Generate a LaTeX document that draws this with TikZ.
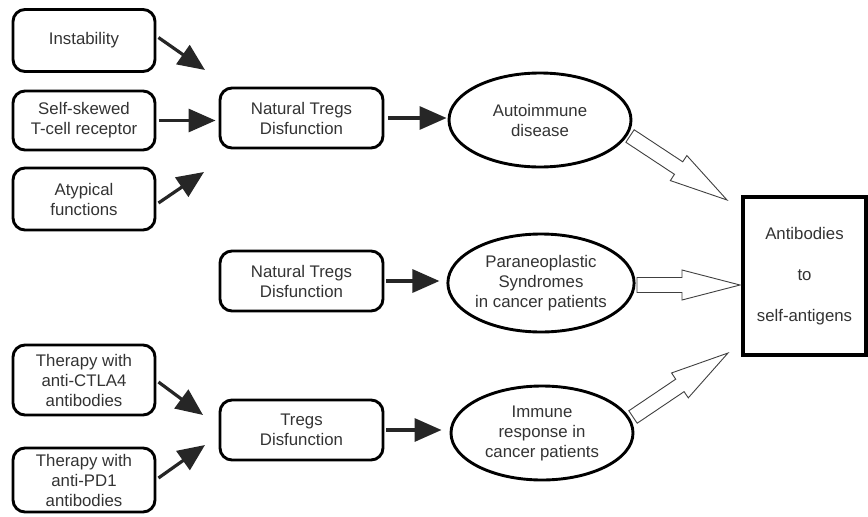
\documentclass[tikz,border=0pt]{standalone}
\usepackage{fontspec}
\setmainfont{Liberation Sans}
\usetikzlibrary{arrows.meta,shapes.geometric,calc}

% open block arrow from #1 to #2
\newcommand{\hollowarrow}[2]{%
  \coordinate (hb) at ($(#2)!58pt!(#1)$);
  \draw[fat] ($(#1)!7.5pt!90:(#2)$) -- ($(hb)!7.5pt!-90:(#1)$)
    -- ($(hb)!15pt!-90:(#1)$) -- (#2) -- ($(hb)!15pt!90:(#1)$)
    -- ($(hb)!7.5pt!90:(#1)$) -- ($(#1)!7.5pt!-90:(#2)$) -- cycle;}

\begin{document}
\begin{tikzpicture}[x=1pt,y=-1pt,
  font=\fontsize{16.8}{20}\selectfont,
  box/.style={
     rectangle, rounded corners=12pt,
     draw=black, line width=2.9pt,
     minimum width=142pt, minimum height=62pt,
     align=center, inner sep=2pt, text=black!80},
  mid/.style={box, minimum width=163pt, minimum height=60pt},
  oval/.style={
     ellipse, draw=black, line width=2.9pt,
     minimum width=182pt, minimum height=94pt,
     align=center, inner sep=0pt, text=black!80},
  arrow/.style={-{Triangle[length=27pt,width=23pt]}, line width=3.2pt, black!85},
  fat/.style={draw=black!75, line width=0.9pt, fill=white, line join=miter}]
\useasboundingbox (0,0) rectangle (868,517);
% left column
\node[box] (inst) at (84,40.5)  {Instability};
\node[box, minimum height=59pt] (skew) at (84,120.5) {Self-skewed\\T-cell receptor};
\node[box] (atyp) at (84,199)   {Atypical\\functions};
\node[box, minimum height=70pt] (ctla) at (84,380) {Therapy with\\anti-CTLA4\\antibodies};
\node[box, minimum height=64pt] (pd1)  at (84,480) {Therapy with\\anti-PD1\\antibodies};
% middle column
\node[mid] (nat)   at (301.5,118) {Natural Tregs\\Disfunction};
\node[mid] (nat2)  at (301.5,281) {Natural Tregs\\Disfunction};
\node[mid] (tregs) at (301.5,430) {Tregs\\Disfunction};
% ellipses
\node[oval] (auto)   at (540,120) {Autoimmune\\disease};
\node[oval, minimum height=98pt] (para) at (541,283) {Paraneoplastic\\Syndromes\\in cancer patients};
\node[oval] (immune) at (542,433) {Immune\\response in\\cancer patients};
% result
\node[rectangle, draw=black, line width=3.5pt, minimum width=123pt,
      minimum height=158pt, align=center, text=black!80] (anti) at (804.5,276)
      {Antibodies\\[21pt]to\\[21pt]self-antigens};
% arrow ends
\coordinate (in1) at (205,70);
\coordinate (in3) at (204,172);
\coordinate (in4) at (203,415);
\coordinate (in5) at (205,445);
\coordinate (t1) at (630,136);
\coordinate (h1) at (727,200);
\coordinate (t2) at (637,285);
\coordinate (h2) at (740,285);
\coordinate (t3) at (633,417);
\coordinate (h3) at (728,353);
% arrows
\draw[arrow] ($(inst.east)+(2,-3)$) -- (in1);
\draw[arrow, shorten <=3pt, shorten >=3pt] (skew.east) -- (skew.east -| nat.west);
\draw[arrow] ($(atyp.east)+(2,4)$) -- (in3);
\draw[arrow] ($(ctla.east)+(2,2)$) -- (in4);
\draw[arrow] ($(pd1.east)+(2,-2)$) -- (in5);
\draw[arrow, shorten <=4pt, shorten >=1pt] (nat.east) -- (nat.east -| auto.west);
\draw[arrow, shorten <=2pt, shorten >=7pt] (nat2.east) -- (nat2.east -| para.west);
\draw[arrow, shorten <=2pt, shorten >=8pt] (tregs.east) -- (tregs.east -| immune.west);
% open arrows
\hollowarrow{t1}{h1}
\hollowarrow{t2}{h2}
\hollowarrow{t3}{h3}
\end{tikzpicture}
\end{document}
